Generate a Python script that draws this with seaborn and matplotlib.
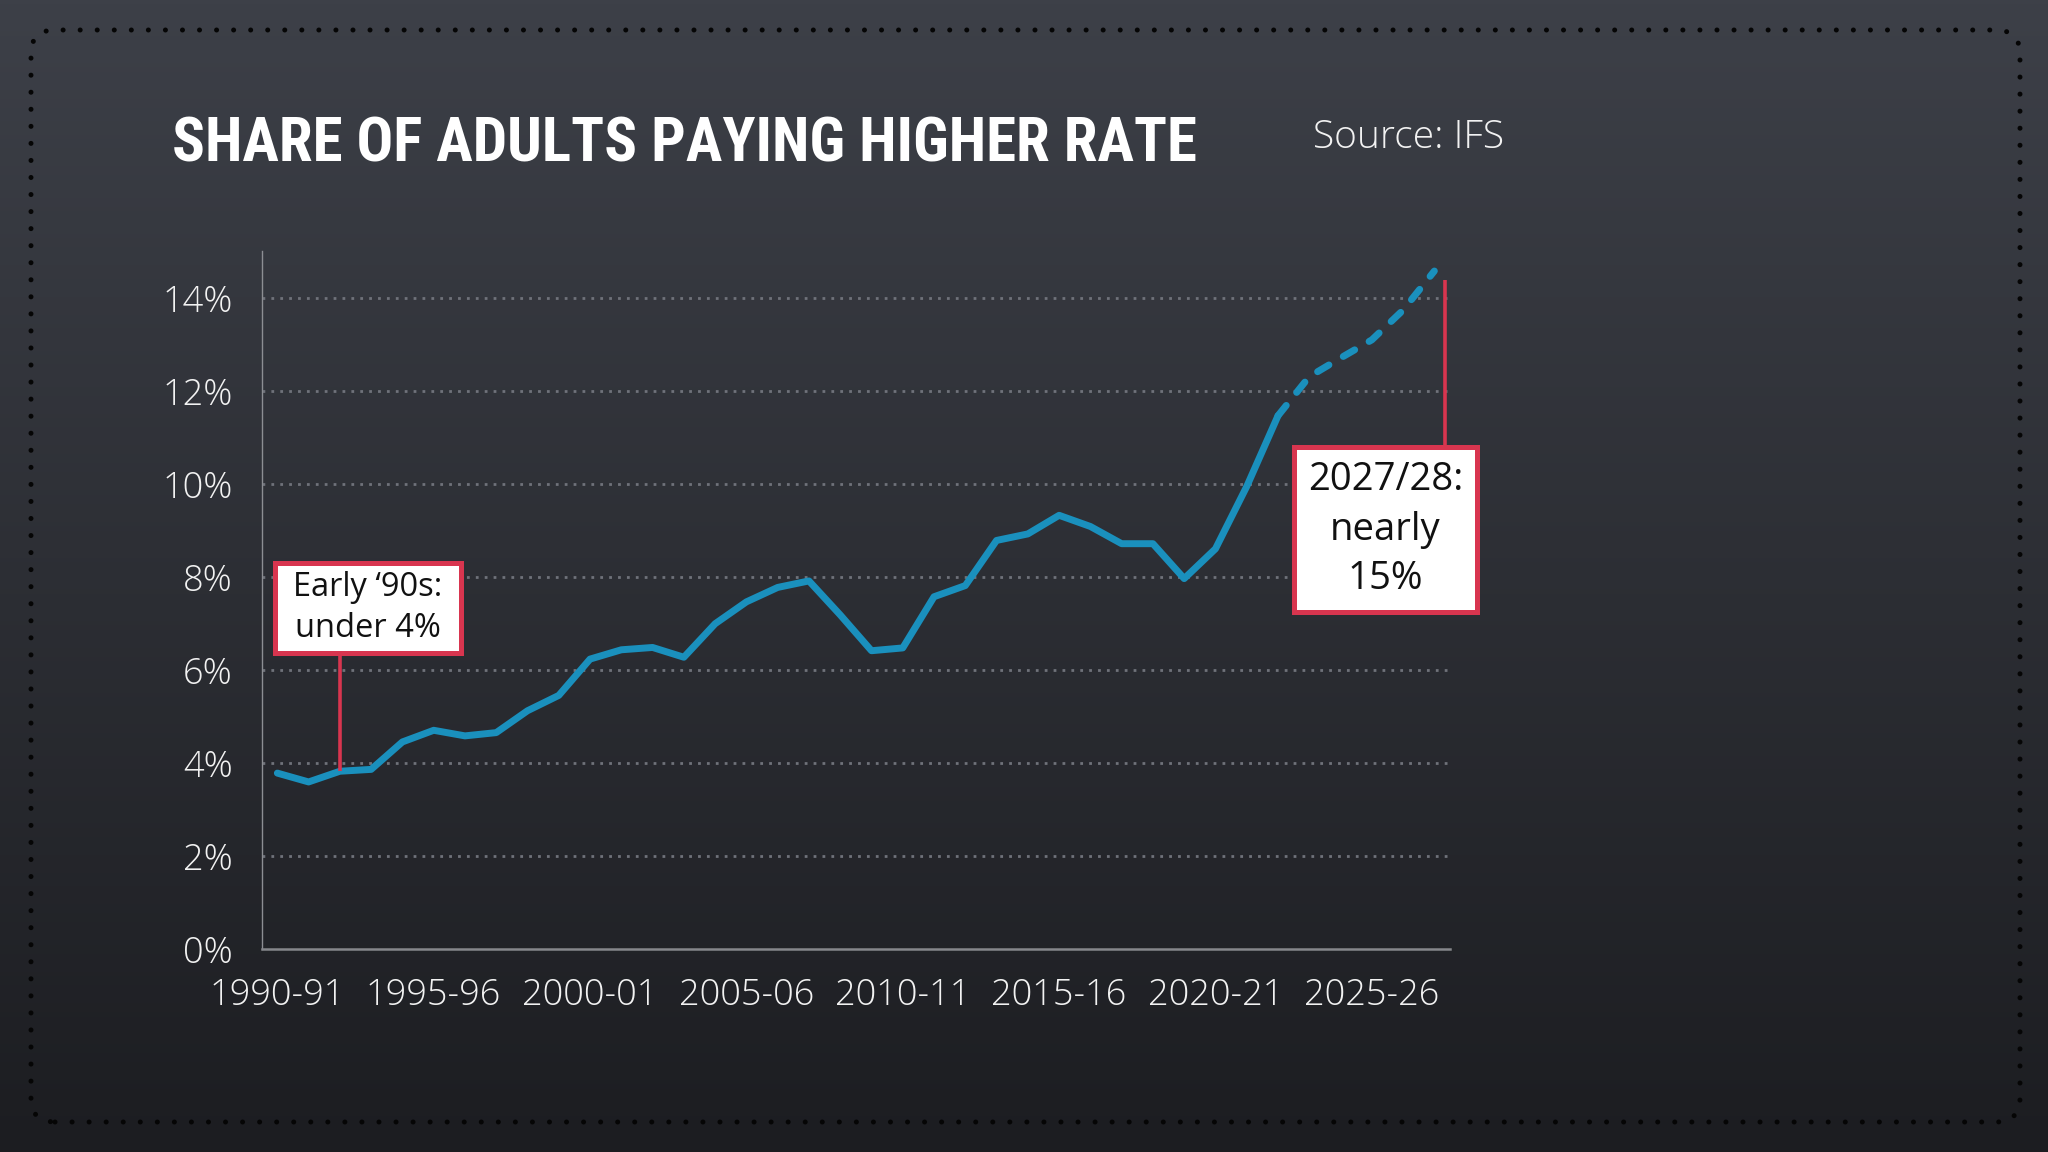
import os
import matplotlib
matplotlib.use("Agg")
import matplotlib.pyplot as plt
import seaborn as sns
import numpy as np
import pandas as pd
from matplotlib import font_manager as fm
from matplotlib.patches import FancyBboxPatch
from matplotlib.path import Path
from matplotlib.ticker import PercentFormatter

# ---------------- data ----------------
fiscal_years = ["1990-91", "1991-92", "1992-93", "1993-94", "1994-95", "1995-96",
                "1996-97", "1997-98", "1998-99", "1999-00", "2000-01", "2001-02",
                "2002-03", "2003-04", "2004-05", "2005-06", "2006-07", "2007-08",
                "2008-09", "2009-10", "2010-11", "2011-12", "2012-13", "2013-14",
                "2014-15", "2015-16", "2016-17", "2017-18", "2018-19", "2019-20",
                "2020-21", "2021-22", "2022-23", "2023-24", "2024-25", "2025-26",
                "2026-27", "2027-28"]
# outturn 1990-91 .. 2022-23
share_actual = [3.78, 3.59, 3.82, 3.86, 4.45, 4.70, 4.58, 4.65, 5.12, 5.45,
                6.23, 6.43, 6.48, 6.27, 6.99, 7.46, 7.77, 7.91, 7.18, 6.41,
                6.47, 7.57, 7.81, 8.78, 8.92, 9.32, 9.08, 8.71, 8.71, 7.96,
                8.60, 9.94, 11.46]
# projection 2022-23 .. 2027-28
share_projected = [11.46, 12.30, 12.70, 13.09, 13.73, 14.57]
tick_labels = ["1990-91", "1995-96", "2000-01", "2005-06", "2010-11",
               "2015-16", "2020-21", "2025-26"]
y_ticks = [0, 2, 4, 6, 8, 10, 12, 14]

title_text = "SHARE OF ADULTS PAYING HIGHER RATE"
source_text = "Source: IFS"
note_early = "Early \u201890s:\nunder 4%"
note_late = "2027/28:\nnearly\n15%"

# ---------------- style ----------------
LINE = "#1a90bd"
RED = "#d8354f"
TXT = "#f2f2f2"
GRID = "#6f727a"

sns.set_theme(style="white")
plt.rcParams["font.family"] = ["Open Sans", "DejaVu Sans"]


def find_condensed_bold():
    cands = []
    for f in fm.fontManager.ttflist:
        b = os.path.basename(f.fname).lower()
        if ("condensed" in b or "narrow" in b) and "bold" in b and "italic" not in b \
                and "oblique" not in b and "semi" not in b and "extra" not in b:
            cands.append(f.fname)
    order = ["roboto", "liberation", "opensans", "open", "noto", "dejavu"]
    for key in order:
        for c in cands:
            if key in os.path.basename(c).lower().replace(" ", ""):
                return fm.FontProperties(fname=c)
    if cands:
        return fm.FontProperties(fname=cands[0])
    return fm.FontProperties(family=["Roboto", "DejaVu Sans"], weight="bold")


class PadBox:
    """Square box with separate horizontal / vertical padding (in font-size units)."""

    def __init__(self, padx, pady):
        self.padx = padx
        self.pady = pady

    def __call__(self, x0, y0, width, height, mutation_size):
        px = self.padx * mutation_size
        py = self.pady * mutation_size
        x0, y0 = x0 - px, y0 - py
        x1, y1 = x0 + width + 2 * px, y0 + height + 2 * py
        return Path([(x0, y0), (x1, y0), (x1, y1), (x0, y1), (x0, y0)], closed=True)


W, H = 2048, 1152
fig = plt.figure(figsize=(W / 100, H / 100), dpi=100)

# background gradient + dotted rounded frame (pixel coordinates)
bg = fig.add_axes([0, 0, 1, 1], zorder=-10)
grad = np.linspace(0, 1, 256).reshape(-1, 1)
top_c = np.array([0x3d, 0x40, 0x48]) / 255
bot_c = np.array([0x1c, 0x1d, 0x21]) / 255
img = top_c[None, None, :] * (1 - grad[:, :, None]) + bot_c[None, None, :] * grad[:, :, None]
bg.imshow(img, extent=[0, W, 0, H], aspect="auto", origin="upper")
bg.set_xlim(0, W)
bg.set_ylim(0, H)
bg.axis("off")
frame = FancyBboxPatch((31, 30), 1989, 1092, boxstyle="round,pad=0,rounding_size=24",
                       fill=False, edgecolor="#050505", linewidth=3.6,
                       linestyle=(0, (0.01, 3.4)), capstyle="round")
bg.add_patch(frame)

# main axes
ax = fig.add_axes([261.7 / W, 1 - 949 / H, (1450 - 261.7) / W, (949 - 251) / H])
ax.set_facecolor("none")

n_act = len(share_actual)
df = pd.concat([
    pd.DataFrame({"pos": list(range(n_act)), "share": share_actual, "kind": "outturn"}),
    pd.DataFrame({"pos": list(range(n_act - 1, n_act - 1 + len(share_projected))),
                  "share": share_projected, "kind": "projection"}),
], ignore_index=True)

sns.lineplot(data=df, x="pos", y="share", style="kind",
             dashes={"outturn": "", "projection": (1.9, 2.4)},
             color=LINE, linewidth=5, legend=False, estimator=None, ax=ax,
             solid_capstyle="round", dash_capstyle="round",
             solid_joinstyle="round", dash_joinstyle="round", zorder=3)

ax.set_xlim(-0.5, len(fiscal_years) - 0.5)
ax.set_ylim(0, 15)
ax.set_yticks(y_ticks)
ax.yaxis.set_major_formatter(PercentFormatter(xmax=100, decimals=0))
ax.set_xticks([fiscal_years.index(t) for t in tick_labels])
ax.set_xticklabels(tick_labels)
ax.set_xlabel("")
ax.set_ylabel("")

for lab in ax.get_xticklabels() + ax.get_yticklabels():
    lab.set_fontfamily(["Open Sans", "DejaVu Sans"])
    lab.set_fontweight("light")
ax.tick_params(axis="both", length=0, labelsize=26, labelcolor=TXT)
ax.tick_params(axis="x", pad=20)
ax.tick_params(axis="y", pad=21)

ax.yaxis.grid(True, color=GRID, linestyle=(0, (1, 2.2)), linewidth=2)
ax.xaxis.grid(False)
gl = ax.yaxis.get_gridlines()
if gl:
    gl[0].set_visible(False)
for s in ["top", "right"]:
    ax.spines[s].set_visible(False)
ax.spines["left"].set_color("#8c8e93")
ax.spines["left"].set_linewidth(1.0)
ax.spines["bottom"].set_color("#85878c")
ax.spines["bottom"].set_linewidth(1.8)

# annotations
i_early = 2
ax.vlines(i_early, share_actual[i_early], 7.0, color=RED, linewidth=2.6, zorder=4)
ax.text(2.89, 7.33, note_early, ha="center", va="center", fontsize=23.5, color="#111111",
        linespacing=1.3, zorder=6, family=["Open Sans", "DejaVu Sans"],
        bbox=dict(boxstyle=PadBox(0.56, 0.25), facecolor="white", edgecolor=RED,
                  linewidth=3.6))

ax.vlines(37.35, 9.5, 14.37, color=RED, linewidth=2.6, zorder=4)
ax.text(35.43, 9.01, note_late, ha="center", va="center", fontsize=27.5, color="#111111",
        linespacing=1.4, zorder=6, family=["Open Sans", "DejaVu Sans"],
        bbox=dict(boxstyle=PadBox(0.36, 0.36), facecolor="white", edgecolor=RED,
                  linewidth=3.6))

# title and source
tprop = find_condensed_bold()
title = fig.text(172 / W, 1 - 161 / H, title_text, fontproperties=tprop, fontsize=69,
                 color="white", ha="left", va="baseline")
fig.canvas.draw()
w = title.get_window_extent().width
title.set_fontsize(min(69, 69 * 1027 / w))

fig.text(1313 / W, 1 - 148 / H, source_text, fontsize=28, color=TXT, ha="left",
         va="baseline", family=["Open Sans", "DejaVu Sans"], fontweight="light")

fig.savefig("out.png", dpi=100, facecolor="#2c2e34")
